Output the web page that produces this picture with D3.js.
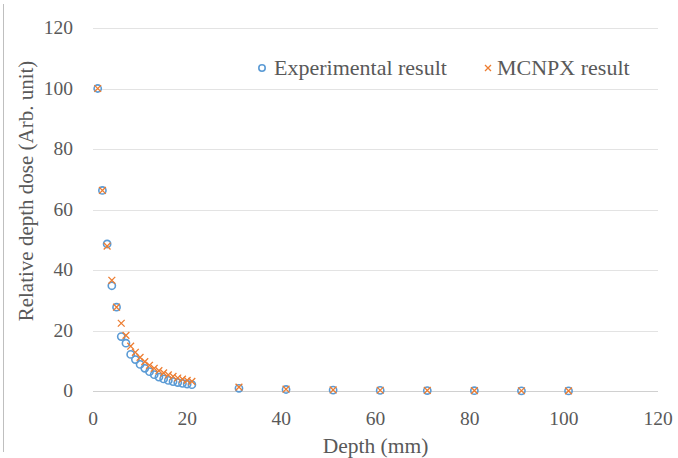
<!DOCTYPE html>
<meta charset="utf-8">
<html>
<head>
<script src="https://d3js.org/d3.v7.min.js"></script>
<style>
  body { margin: 0; background: #fff; }
  text { font-family: "Liberation Serif", "Times New Roman", serif; fill: #595959; }
</style>
</head>
<body>
<script>
    var depth = [1, 2, 3, 4, 5, 6, 7, 8, 9, 10, 11, 12, 13, 14, 15, 16, 17, 18, 19, 20, 21,
                 31, 41, 51, 61, 71, 81, 91, 101];
    var experimental = [100, 66.3, 48.6, 34.8, 27.7, 18.0, 15.8, 12.1, 10.4, 8.8, 7.5, 6.4, 5.4, 4.6, 4.0,
                        3.5, 3.1, 2.8, 2.5, 2.3, 2.1, 0.9, 0.5, 0.3, 0.2, 0.15, 0.1, 0.05, 0.03];
    var mcnpx = [100, 66.3, 47.9, 36.6, 27.7, 22.4, 18.4, 14.8, 12.8, 11.1, 9.7, 8.5, 7.5, 6.7, 6.0,
                 5.3, 4.8, 4.3, 3.9, 3.5, 3.2, 1.3, 0.6, 0.35, 0.25, 0.18, 0.12, 0.08, 0.05];
    var xTicks = [0, 20, 40, 60, 80, 100, 120];
    var yTicks = [0, 20, 40, 60, 80, 100, 120];

    var W = 678, H = 458;
    var margin = {top: 28, right: 20, bottom: 67, left: 93};

    var svg = d3.select("body").append("svg")
        .attr("width", W).attr("height", H);

    // partial outer border on the left
    svg.append("line")
        .attr("x1", 3.5).attr("x2", 3.5).attr("y1", 4).attr("y2", 452)
        .attr("stroke", "#bfbfbf").attr("stroke-width", 1);

    var x = d3.scaleLinear().domain([0, 120]).range([margin.left, W - margin.right]);
    var y = d3.scaleLinear().domain([0, 120]).range([H - margin.bottom, margin.top]);

    // gridlines
    svg.append("g")
        .selectAll("line")
        .data(yTicks)
        .enter().append("line")
        .attr("x1", x(0)).attr("x2", x(120))
        .attr("y1", function(d){ return Math.round(y(d)) + 0.5; })
        .attr("y2", function(d){ return Math.round(y(d)) + 0.5; })
        .attr("stroke", function(d){ return d === 0 ? "#d0d0d0" : "#e3e3e3"; })
        .attr("stroke-width", 1);

    // y axis labels
    svg.append("g")
        .selectAll("text")
        .data(yTicks)
        .enter().append("text")
        .attr("x", 73)
        .attr("y", function(d){ return y(d); })
        .attr("dy", "0.33em")
        .attr("text-anchor", "end")
        .attr("font-size", "19.5px")
        .text(function(d){ return d; });

    // x axis labels
    svg.append("g")
        .selectAll("text")
        .data(xTicks)
        .enter().append("text")
        .attr("x", function(d){ return x(d); })
        .attr("y", 425)
        .attr("text-anchor", "middle")
        .attr("font-size", "19.5px")
        .text(function(d){ return d; });

    svg.append("text")
        .attr("x", (x(0) + x(120)) / 2)
        .attr("y", 453)
        .attr("text-anchor", "middle")
        .attr("font-size", "21.5px")
        .text("Depth (mm)");

    svg.append("text")
        .attr("transform", "translate(33,191) rotate(-90)")
        .attr("text-anchor", "middle")
        .attr("font-size", "21px")
        .text("Relative depth dose (Arb. unit)");

    var blue = "#5b9bd5", orange = "#ed7d31";

    var expData = depth.map(function(d, i){ return {x: d, y: experimental[i]}; });
    var mcData = depth.map(function(d, i){ return {x: d, y: mcnpx[i]}; });

    svg.append("g")
        .selectAll("circle")
        .data(expData)
        .enter().append("circle")
        .attr("cx", function(d){ return x(d.x); })
        .attr("cy", function(d){ return y(d.y); })
        .attr("r", 3.6)
        .attr("fill", "none")
        .attr("stroke", blue)
        .attr("stroke-width", 1.6);

    var s = 3.4;
    function cross(g, cx, cy, size) {
        g.append("path")
            .attr("d", "M" + (cx - size) + "," + (cy - size) + "L" + (cx + size) + "," + (cy + size) +
                       "M" + (cx - size) + "," + (cy + size) + "L" + (cx + size) + "," + (cy - size))
            .attr("stroke", orange)
            .attr("stroke-width", 1.3)
            .attr("fill", "none");
    }
    var mg = svg.append("g");
    mcData.forEach(function(d){ cross(mg, x(d.x), y(d.y), s); });

    // legend
    var lg = svg.append("g");
    lg.append("circle")
        .attr("cx", 262).attr("cy", 68).attr("r", 3.2)
        .attr("fill", "none").attr("stroke", blue).attr("stroke-width", 1.6);
    lg.append("text")
        .attr("x", 274).attr("y", 75)
        .attr("font-size", "22px")
        .text("Experimental result");
    cross(lg, 488, 68, 3);
    lg.append("text")
        .attr("x", 497).attr("y", 75)
        .attr("font-size", "22px")
        .text("MCNPX result");
</script>
</body>
</html>
